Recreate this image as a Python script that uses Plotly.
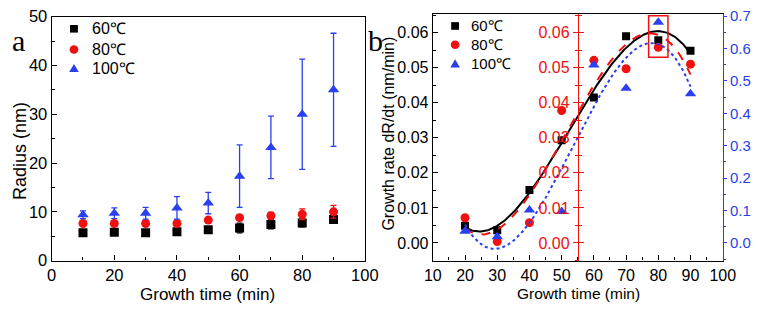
import numpy as np
import plotly.graph_objects as go

# ---------------- data ----------------
t_a = [10, 20, 30, 40, 50, 60, 70, 80, 90]
r60 = [5.7, 5.8, 5.7, 5.9, 6.3, 6.7, 7.4, 7.7, 8.4]
r60_err = [0.5, 0.6, 0.5, 0.5, 0.5, 1.0, 0.9, 0.8, 0.6]
r80 = [7.6, 7.6, 7.6, 7.6, 8.3, 8.8, 9.2, 9.5, 10.0]
r80_err = [0.4, 0.4, 0.4, 0.4, 0.5, 0.5, 0.7, 1.1, 1.3]
r100 = [9.4, 9.7, 9.7, 10.8, 11.8, 17.3, 23.2, 30.0, 35.0]
r100_err = [0.8, 1.1, 1.2, 2.3, 2.2, 6.4, 6.4, 11.3, 11.6]

t_b = [20, 30, 40, 50, 60, 70, 80, 90]
g60 = [0.0049, 0.0036, 0.0151, 0.0293, 0.0415, 0.0590, 0.0578, 0.0548]
g80 = [0.0072, 0.0004, 0.0058, 0.0378, 0.0521, 0.0497, 0.0558, 0.0510]
g100 = [0.036, 0.019, 0.102, 0.097, 0.549, 0.477, 0.681, 0.460]

names = ["60℃", "80℃", "100℃"]

BLACK = "#000000"
RED = "#f01010"
BLUE = "#2a3ff0"
FONT = "Liberation Sans, Arial, sans-serif"
W, H = 762, 312


def px_x(p):
    return p / W


def px_y(p):
    return (H - p) / H


def fit(x, y, deg=3):
    c = np.polyfit(x, y, deg)
    xs = np.linspace(min(x), max(x), 200)
    return xs, np.polyval(c, xs)


fig = go.Figure()

# ---------------- panel a ----------------
for y, e, col, sym, sz, nm in [
    (r60, r60_err, BLACK, "square", 9, names[0]),
    (r80, r80_err, RED, "circle", 9, names[1]),
    (r100, r100_err, BLUE, "triangle-up", 10, names[2]),
]:
    fig.add_trace(go.Scatter(
        x=t_a, y=y, mode="markers", name=nm, xaxis="x", yaxis="y",
        marker=dict(symbol=sym, size=sz, color=col),
        error_y=dict(type="data", array=e, color=col, thickness=1.3, width=3),
        showlegend=False,
    ))

# ---------------- panel b ----------------
xs, ys = fit(t_b, g60)
fig.add_trace(go.Scatter(x=xs, y=ys, mode="lines", xaxis="x2", yaxis="y2",
                         line=dict(color=BLACK, width=2), showlegend=False))
xs, ys = fit(t_b, g80)
fig.add_trace(go.Scatter(x=xs, y=ys, mode="lines", xaxis="x2", yaxis="y3",
                         line=dict(color=RED, width=2, dash="dash"), showlegend=False))
xs, ys = fit(t_b, g100)
fig.add_trace(go.Scatter(x=xs, y=ys, mode="lines", xaxis="x2", yaxis="y4",
                         line=dict(color=BLUE, width=2, dash="dot"), showlegend=False))

fig.add_trace(go.Scatter(x=t_b, y=g60, mode="markers", name=names[0], xaxis="x2", yaxis="y2",
                         marker=dict(symbol="square", size=8, color=BLACK), showlegend=False))
fig.add_trace(go.Scatter(x=t_b, y=g80, mode="markers", name=names[1], xaxis="x2", yaxis="y3",
                         marker=dict(symbol="circle", size=9, color=RED), showlegend=False))
fig.add_trace(go.Scatter(x=t_b, y=g100, mode="markers", name=names[2], xaxis="x2", yaxis="y4",
                         marker=dict(symbol="triangle-up", size=10, color=BLUE), showlegend=False))

tf_a = dict(family=FONT, size=16.5, color=BLACK)
tf_b = dict(family=FONT, size=16, color=BLACK)
common = dict(showgrid=False, zeroline=False, showline=True, linewidth=1.2,
              ticks="inside", ticklen=5, tickwidth=1.2, linecolor=BLACK, tickcolor=BLACK,
              ticklabeloverflow="allow")

dom_a_x = [px_x(44), px_x(367)]
dom_a_y = [px_y(267), px_y(8)]
dom_b_x = [px_x(437), px_x(736)]
dom_b_y = [px_y(267), px_y(5)]
rng_b = [-0.00503, 0.0654]

# ---------------- manual legends (paper coordinates) ----------------
shapes = [dict(type="rect", xref="x2", yref="y2", x0=77, x1=83, y0=0.053, y1=0.0648,
               line=dict(color=RED, width=1.5), fillcolor="rgba(0,0,0,0)")]
annotations = []


def legend_block(cx, ys, tx, fsize, s):
    cols = [BLACK, RED, BLUE]
    for i, (yy, col, nm) in enumerate(zip(ys, cols, names)):
        if i == 0:
            h = s * 0.45
            shapes.append(dict(type="rect", xref="paper", yref="paper",
                               x0=px_x(cx - h), x1=px_x(cx + h), y0=px_y(yy + h), y1=px_y(yy - h),
                               line=dict(width=0), fillcolor=col))
        elif i == 1:
            h = s * 0.5
            shapes.append(dict(type="circle", xref="paper", yref="paper",
                               x0=px_x(cx - h), x1=px_x(cx + h), y0=px_y(yy + h), y1=px_y(yy - h),
                               line=dict(width=0), fillcolor=col))
        else:
            h = s * 0.55
            path = "M {:.5f},{:.5f} L {:.5f},{:.5f} L {:.5f},{:.5f} Z".format(
                px_x(cx - h), px_y(yy + h * 0.8), px_x(cx + h), px_y(yy + h * 0.8),
                px_x(cx), px_y(yy - h * 0.95))
            shapes.append(dict(type="path", xref="paper", yref="paper", path=path,
                               line=dict(width=0), fillcolor=col))
        annotations.append(dict(text=nm, xref="paper", yref="paper", x=px_x(tx), y=px_y(yy),
                                xanchor="left", yanchor="middle", showarrow=False,
                                font=dict(family=FONT, size=fsize, color=BLACK)))


legend_block(67, [21, 43, 63], 84, 16, 9)
legend_block(460, [18, 38, 58], 474, 15, 9)

ann = [
    dict(text="Radius (nm)", x=px_x(12), y=px_y(151), textangle=-90, size=18),
    dict(text="Growth rate dR/dt (nm/min)", x=px_x(391), y=px_y(132), textangle=-90, size=16),
    dict(text="Growth time (min)", x=px_x(205), y=px_y(302.5), textangle=0, size=17),
    dict(text="Growth time (min)", x=px_x(587), y=px_y(302), textangle=0, size=15.5),
]
for a in ann:
    sz = a.pop("size")
    annotations.append(dict(xref="paper", yref="paper", showarrow=False,
                            xanchor="center", yanchor="middle",
                            font=dict(family=FONT, size=sz, color=BLACK), **a))
for txt, xx in [("a", 10), ("b", 378)]:
    annotations.append(dict(text=txt, xref="paper", yref="paper", x=px_x(xx), y=px_y(33),
                            showarrow=False, xanchor="center", yanchor="middle",
                            font=dict(family="Liberation Serif, Times New Roman, serif",
                                      size=30, color=BLACK)))

fig.update_layout(
    width=W, height=H, autosize=False, margin=dict(l=0, r=0, t=0, b=0, pad=0),
    paper_bgcolor="white", plot_bgcolor="white", showlegend=False,
    font=dict(family=FONT, size=16, color=BLACK),
    xaxis=dict(domain=dom_a_x, range=[0, 100.02], dtick=20, anchor="y", mirror=True,
               tickfont=tf_a,
               minor=dict(dtick=10, ticks="inside", ticklen=3, tickcolor=BLACK), **common),
    yaxis=dict(domain=dom_a_y, range=[0, 50.02], dtick=10, anchor="x", mirror=True,
               tickfont=tf_a,
               minor=dict(dtick=5, ticks="inside", ticklen=3, tickcolor=BLACK), **common),
    xaxis2=dict(domain=dom_b_x, range=[10, 100.02], dtick=10, anchor="y2", mirror=True,
                tickfont=tf_b,
                minor=dict(dtick=5, ticks="inside", ticklen=3, tickcolor=BLACK), **common),
    yaxis2=dict(domain=dom_b_y, range=rng_b, dtick=0.01, tickformat=".2f", anchor="x2",
                tickfont=tf_b,
                minor=dict(dtick=0.005, ticks="inside", ticklen=3, tickcolor=BLACK), **common),
    yaxis3=dict(overlaying="y2", anchor="free", position=px_x(586.6), side="left",
                range=rng_b, dtick=0.01, tickformat=".2f", ticklabeloverflow="allow",
                showgrid=False, zeroline=False, showline=True, linewidth=1.2, linecolor=RED,
                ticks="outside", ticklen=5, tickwidth=1.2, tickcolor=RED,
                tickfont=dict(family=FONT, size=16, color=RED),
                minor=dict(dtick=0.005, ticks="outside", ticklen=3, tickcolor=RED)),
    yaxis5=dict(overlaying="y2", anchor="free", position=px_x(586.6), side="left",
                range=rng_b, dtick=0.01, showticklabels=False,
                showgrid=False, zeroline=False, showline=False,
                ticks="inside", ticklen=5, tickwidth=1.2, tickcolor=RED,
                minor=dict(dtick=0.005, ticks="inside", ticklen=3, tickcolor=RED)),
    yaxis4=dict(overlaying="y2", anchor="x2", side="right",
                range=[-0.0544, 0.7072], dtick=0.1, tickformat=".1f", ticklabeloverflow="allow",
                showgrid=False, zeroline=False, showline=True, linewidth=1.2, linecolor=BLUE,
                ticks="outside", ticklen=3, tickwidth=1.2, tickcolor=BLUE,
                tickfont=dict(family=FONT, size=15, color=BLUE),
                minor=dict(dtick=0.05, ticks="outside", ticklen=2, tickcolor=BLUE)),
    shapes=shapes,
    annotations=annotations,
)

# dummy trace to activate yaxis5
fig.add_trace(go.Scatter(x=[None], y=[None], xaxis="x2", yaxis="y5", showlegend=False))

fig.write_html("out.html",
               config={"displayModeBar": False, "responsive": False},
               default_width="762px", default_height="312px",
               post_script="document.body.style.margin='0';document.body.style.overflow='hidden';")
